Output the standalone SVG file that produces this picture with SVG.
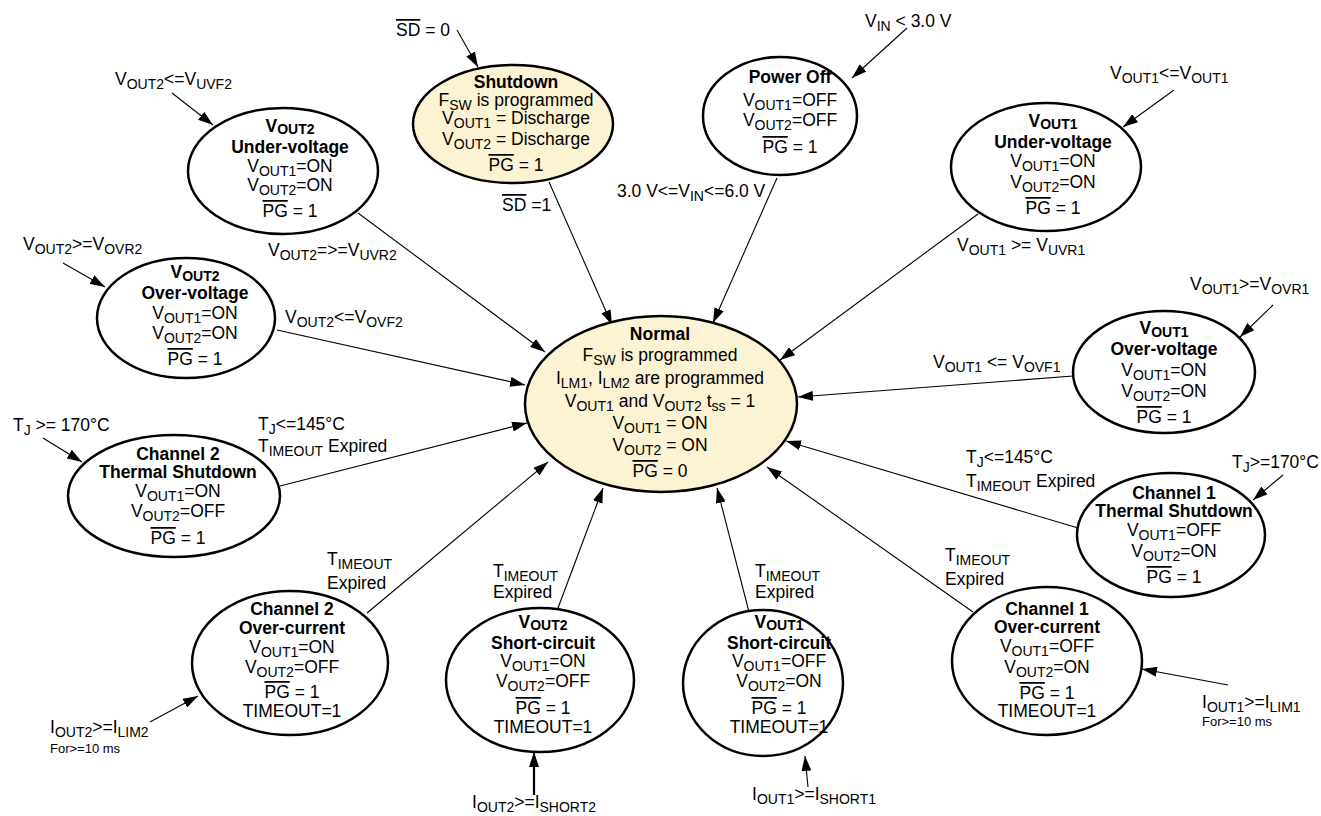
<svg xmlns="http://www.w3.org/2000/svg" width="1321" height="816" viewBox="0 0 1321 816">
<style>
.n{fill:#fff;stroke:#000;stroke-width:2.5}
.f{fill:#FCF2D4}
text{font-family:"Liberation Sans",Arial,sans-serif;font-size:17.5px;fill:#000}
.c{text-anchor:middle}
.b{font-weight:bold}
.s{font-size:14px}
.sm{font-size:13px}
.o{text-decoration:overline}
.k{stroke:#000;stroke-width:1.1;fill:none;marker-end:url(#ah)}
.kt{stroke:#000;stroke-width:2.2;fill:none;marker-end:url(#ah)}
</style>
<defs>
<marker id="ah" markerUnits="userSpaceOnUse" markerWidth="15" markerHeight="10" refX="15" refY="5" orient="auto">
<path d="M0,0 L15,5 L0,10 z" fill="#000"/>
</marker>
</defs>
<rect width="1321" height="816" fill="#fff"/>

<g id="connectors">
<line class="k" x1="457" y1="30" x2="478" y2="67"/>
<line class="k" x1="907" y1="28" x2="852" y2="78"/>
<line class="k" x1="172" y1="93" x2="213" y2="125"/>
<line class="k" x1="63" y1="263" x2="105" y2="287"/>
<line class="k" x1="1174" y1="90" x2="1123" y2="127"/>
<line class="k" x1="1273" y1="305" x2="1240" y2="337"/>
<line class="k" x1="43" y1="438" x2="82" y2="462"/>
<line class="k" x1="1283" y1="475" x2="1253" y2="500"/>
<line class="k" x1="150" y1="722" x2="198" y2="696"/>
<line class="kt" x1="534" y1="795" x2="534" y2="752"/>
<line class="k" x1="808" y1="787" x2="805" y2="756"/>
<line class="k" x1="1228" y1="685" x2="1142" y2="669"/>
<line class="k" x1="549" y1="182" x2="612" y2="325"/>
<line class="k" x1="777" y1="178" x2="713" y2="323"/>
<line class="k" x1="358" y1="213" x2="545" y2="352"/>
<line class="k" x1="978" y1="214" x2="780" y2="360"/>
<line class="k" x1="277" y1="330" x2="525" y2="385"/>
<line class="k" x1="1073" y1="376" x2="798" y2="397"/>
<line class="k" x1="280" y1="486" x2="527" y2="423"/>
<line class="k" x1="1078" y1="528" x2="786" y2="441"/>
<line class="k" x1="367" y1="613" x2="548" y2="462"/>
<line class="k" x1="973" y1="612" x2="767" y2="467"/>
<line class="k" x1="558" y1="608" x2="603" y2="488"/>
<line class="k" x1="749" y1="612" x2="717" y2="488"/>
</g>

<g id="labels">
<text x="396" y="36"><tspan class="o">SD</tspan> = 0</text>
<text x="865" y="27">V<tspan class="s" dy="4">IN</tspan><tspan dy="-4"> &lt; 3.0 V</tspan></text>
<text x="115" y="85">V<tspan class="s" dy="4">OUT2</tspan><tspan dy="-4">&lt;=V</tspan><tspan class="s" dy="4">UVF2</tspan></text>
<text x="23" y="250">V<tspan class="s" dy="4">OUT2</tspan><tspan dy="-4">&gt;=V</tspan><tspan class="s" dy="4">OVR2</tspan></text>
<text x="1110" y="79">V<tspan class="s" dy="4">OUT1</tspan><tspan dy="-4">&lt;=V</tspan><tspan class="s" dy="4">OUT1</tspan></text>
<text x="1190" y="290">V<tspan class="s" dy="4">OUT1</tspan><tspan dy="-4">&gt;=V</tspan><tspan class="s" dy="4">OVR1</tspan></text>
<text x="13" y="431">T<tspan class="s" dy="4">J</tspan><tspan dy="-4"> &gt;= 170°C</tspan></text>
<text x="1232" y="468">T<tspan class="s" dy="4">J</tspan><tspan dy="-4">&gt;=170°C</tspan></text>
<text x="50" y="733">I<tspan class="s" dy="4">OUT2</tspan><tspan dy="-4">&gt;=I</tspan><tspan class="s" dy="4">LIM2</tspan></text>
<text class="sm" x="50" y="753">For&gt;=10 ms</text>
<text x="472" y="808">I<tspan class="s" dy="4">OUT2</tspan><tspan dy="-4">&gt;=I</tspan><tspan class="s" dy="4">SHORT2</tspan></text>
<text x="752" y="800">I<tspan class="s" dy="4">OUT1</tspan><tspan dy="-4">&gt;=I</tspan><tspan class="s" dy="4">SHORT1</tspan></text>
<text x="1202" y="708">I<tspan class="s" dy="4">OUT1</tspan><tspan dy="-4">&gt;=I</tspan><tspan class="s" dy="4">LIM1</tspan></text>
<text class="sm" x="1202" y="726">For&gt;=10 ms</text>
<text x="502" y="211"><tspan class="o">SD</tspan> =1</text>
<text x="617" y="197">3.0 V&lt;=V<tspan class="s" dy="4">IN</tspan><tspan dy="-4">&lt;=6.0 V</tspan></text>
<text x="268" y="256">V<tspan class="s" dy="4">OUT2</tspan><tspan dy="-4">=&gt;=V</tspan><tspan class="s" dy="4">UVR2</tspan></text>
<text x="957" y="251">V<tspan class="s" dy="4">OUT1</tspan><tspan dy="-4"> &gt;= V</tspan><tspan class="s" dy="4">UVR1</tspan></text>
<text x="285" y="323">V<tspan class="s" dy="4">OUT2</tspan><tspan dy="-4">&lt;=V</tspan><tspan class="s" dy="4">OVF2</tspan></text>
<text x="933" y="368">V<tspan class="s" dy="4">OUT1</tspan><tspan dy="-4"> &lt;= V</tspan><tspan class="s" dy="4">OVF1</tspan></text>
<text x="258" y="430">T<tspan class="s" dy="4">J</tspan><tspan dy="-4">&lt;=145°C</tspan></text>
<text x="258" y="452">T<tspan class="s" dy="4">IMEOUT</tspan><tspan dy="-4"> Expired</tspan></text>
<text x="966" y="463">T<tspan class="s" dy="4">J</tspan><tspan dy="-4">&lt;=145°C</tspan></text>
<text x="966" y="487">T<tspan class="s" dy="4">IMEOUT</tspan><tspan dy="-4"> Expired</tspan></text>
<text x="327" y="565">T<tspan class="s" dy="4">IMEOUT</tspan></text>
<text x="327" y="589">Expired</text>
<text x="493" y="577">T<tspan class="s" dy="4">IMEOUT</tspan></text>
<text x="493" y="598">Expired</text>
<text x="755" y="577">T<tspan class="s" dy="4">IMEOUT</tspan></text>
<text x="755" y="598">Expired</text>
<text x="945" y="561">T<tspan class="s" dy="4">IMEOUT</tspan></text>
<text x="945" y="585">Expired</text>
</g>

<g id="normal">
<ellipse class="n f" cx="661" cy="404" rx="136" ry="88"/>
<text class="c b" x="660" y="340">Normal</text>
<text class="c" x="660" y="361">F<tspan class="s" dy="4">SW</tspan><tspan dy="-4"> is programmed</tspan></text>
<text class="c" x="660" y="384">I<tspan class="s" dy="4">LM1</tspan><tspan dy="-4">, I</tspan><tspan class="s" dy="4">LM2</tspan><tspan dy="-4"> are programmed</tspan></text>
<text class="c" x="660" y="407">V<tspan class="s" dy="4">OUT1</tspan><tspan dy="-4"> and V</tspan><tspan class="s" dy="4">OUT2</tspan><tspan dy="-4"> t</tspan><tspan class="s" dy="4">ss</tspan><tspan dy="-4"> = 1</tspan></text>
<text class="c" x="660" y="429">V<tspan class="s" dy="4">OUT1</tspan><tspan dy="-4"> = ON</tspan></text>
<text class="c" x="660" y="451">V<tspan class="s" dy="4">OUT2</tspan><tspan dy="-4"> = ON</tspan></text>
<text class="c" x="660" y="477"><tspan class="o">PG</tspan> = 0</text>
</g>

<g id="shutdown">
<ellipse class="n f" cx="513" cy="124" rx="100" ry="59"/>
<text class="c b" x="516" y="88">Shutdown</text>
<text class="c" x="516" y="106">F<tspan class="s" dy="4">SW</tspan><tspan dy="-4"> is programmed</tspan></text>
<text class="c" x="516" y="124">V<tspan class="s" dy="4">OUT1</tspan><tspan dy="-4"> = Discharge</tspan></text>
<text class="c" x="516" y="145">V<tspan class="s" dy="4">OUT2</tspan><tspan dy="-4"> = Discharge</tspan></text>
<text class="c" x="516" y="171"><tspan class="o">PG</tspan> = 1</text>
</g>

<g id="power-off">
<ellipse class="n" cx="780" cy="116" rx="77" ry="59"/>
<text class="c b" x="790" y="83">Power Off</text>
<text class="c" x="790" y="106">V<tspan class="s" dy="4">OUT1</tspan><tspan dy="-4">=OFF</tspan></text>
<text class="c" x="790" y="126">V<tspan class="s" dy="4">OUT2</tspan><tspan dy="-4">=OFF</tspan></text>
<text class="c" x="790" y="153"><tspan class="o">PG</tspan> = 1</text>
</g>

<g id="vout2-uv">
<ellipse class="n" cx="283" cy="171" rx="95" ry="63"/>
<text class="c b" x="290" y="132">V<tspan class="s" dy="2">OUT2</tspan></text>
<text class="c b" x="290" y="153">Under-voltage</text>
<text class="c" x="290" y="172">V<tspan class="s" dy="4">OUT1</tspan><tspan dy="-4">=ON</tspan></text>
<text class="c" x="290" y="191">V<tspan class="s" dy="4">OUT2</tspan><tspan dy="-4">=ON</tspan></text>
<text class="c" x="290" y="217"><tspan class="o">PG</tspan> = 1</text>
</g>

<g id="vout2-ov">
<ellipse class="n" cx="186" cy="318" rx="89" ry="60"/>
<text class="c b" x="195" y="278">V<tspan class="s" dy="3">OUT2</tspan></text>
<text class="c b" x="195" y="299">Over-voltage</text>
<text class="c" x="195" y="319">V<tspan class="s" dy="4">OUT1</tspan><tspan dy="-4">=ON</tspan></text>
<text class="c" x="195" y="339">V<tspan class="s" dy="4">OUT2</tspan><tspan dy="-4">=ON</tspan></text>
<text class="c" x="195" y="365"><tspan class="o">PG</tspan> = 1</text>
</g>

<g id="vout1-uv">
<ellipse class="n" cx="1046" cy="167" rx="95" ry="64"/>
<text class="c b" x="1053" y="127">V<tspan class="s" dy="2">OUT1</tspan></text>
<text class="c b" x="1053" y="148">Under-voltage</text>
<text class="c" x="1053" y="167">V<tspan class="s" dy="4">OUT1</tspan><tspan dy="-4">=ON</tspan></text>
<text class="c" x="1053" y="188">V<tspan class="s" dy="4">OUT2</tspan><tspan dy="-4">=ON</tspan></text>
<text class="c" x="1053" y="214"><tspan class="o">PG</tspan> = 1</text>
</g>

<g id="vout1-ov">
<ellipse class="n" cx="1164" cy="372" rx="91" ry="61"/>
<text class="c b" x="1164" y="334">V<tspan class="s" dy="3">OUT1</tspan></text>
<text class="c b" x="1164" y="355">Over-voltage</text>
<text class="c" x="1164" y="376">V<tspan class="s" dy="4">OUT1</tspan><tspan dy="-4">=ON</tspan></text>
<text class="c" x="1164" y="397">V<tspan class="s" dy="4">OUT2</tspan><tspan dy="-4">=ON</tspan></text>
<text class="c" x="1164" y="423"><tspan class="o">PG</tspan> = 1</text>
</g>

<g id="ch2-thermal">
<ellipse class="n" cx="174" cy="496" rx="106" ry="61"/>
<text class="c b" x="178" y="460">Channel 2</text>
<text class="c b" x="178" y="478">Thermal Shutdown</text>
<text class="c" x="178" y="497">V<tspan class="s" dy="4">OUT1</tspan><tspan dy="-4">=ON</tspan></text>
<text class="c" x="178" y="517">V<tspan class="s" dy="4">OUT2</tspan><tspan dy="-4">=OFF</tspan></text>
<text class="c" x="178" y="544"><tspan class="o">PG</tspan> = 1</text>
</g>

<g id="ch1-thermal">
<ellipse class="n" cx="1171" cy="535" rx="94" ry="62"/>
<text class="c b" x="1174" y="499">Channel 1</text>
<text class="c b" x="1174" y="517">Thermal Shutdown</text>
<text class="c" x="1174" y="536">V<tspan class="s" dy="4">OUT1</tspan><tspan dy="-4">=OFF</tspan></text>
<text class="c" x="1174" y="557">V<tspan class="s" dy="4">OUT2</tspan><tspan dy="-4">=ON</tspan></text>
<text class="c" x="1174" y="583"><tspan class="o">PG</tspan> = 1</text>
</g>

<g id="ch2-oc">
<ellipse class="n" cx="290" cy="663" rx="98" ry="72"/>
<text class="c b" x="292" y="615">Channel 2</text>
<text class="c b" x="292" y="634">Over-current</text>
<text class="c" x="292" y="653">V<tspan class="s" dy="4">OUT1</tspan><tspan dy="-4">=ON</tspan></text>
<text class="c" x="292" y="673">V<tspan class="s" dy="4">OUT2</tspan><tspan dy="-4">=OFF</tspan></text>
<text class="c" x="292" y="698"><tspan class="o">PG</tspan> = 1</text>
<text class="c" x="292" y="717">TIMEOUT=1</text>
</g>

<g id="vout2-sc">
<ellipse class="n" cx="540" cy="680" rx="94" ry="72"/>
<text class="c b" x="543" y="628">V<tspan class="s" dy="2">OUT2</tspan></text>
<text class="c b" x="543" y="649">Short-circuit</text>
<text class="c" x="543" y="667">V<tspan class="s" dy="4">OUT1</tspan><tspan dy="-4">=ON</tspan></text>
<text class="c" x="543" y="687">V<tspan class="s" dy="4">OUT2</tspan><tspan dy="-4">=OFF</tspan></text>
<text class="c" x="543" y="714"><tspan class="o">PG</tspan> = 1</text>
<text class="c" x="543" y="733">TIMEOUT=1</text>
</g>

<g id="vout1-sc">
<ellipse class="n" cx="763" cy="683" rx="80" ry="73"/>
<text class="c b" x="779" y="628">V<tspan class="s" dy="2">OUT1</tspan></text>
<text class="c b" x="779" y="649">Short-circuit</text>
<text class="c" x="779" y="667">V<tspan class="s" dy="4">OUT1</tspan><tspan dy="-4">=OFF</tspan></text>
<text class="c" x="779" y="687">V<tspan class="s" dy="4">OUT2</tspan><tspan dy="-4">=ON</tspan></text>
<text class="c" x="779" y="714"><tspan class="o">PG</tspan> = 1</text>
<text class="c" x="779" y="733">TIMEOUT=1</text>
</g>

<g id="ch1-oc">
<ellipse class="n" cx="1047" cy="661" rx="95" ry="74"/>
<text class="c b" x="1047" y="615">Channel 1</text>
<text class="c b" x="1047" y="633">Over-current</text>
<text class="c" x="1047" y="652">V<tspan class="s" dy="4">OUT1</tspan><tspan dy="-4">=OFF</tspan></text>
<text class="c" x="1047" y="673">V<tspan class="s" dy="4">OUT2</tspan><tspan dy="-4">=ON</tspan></text>
<text class="c" x="1047" y="699"><tspan class="o">PG</tspan> = 1</text>
<text class="c" x="1047" y="717">TIMEOUT=1</text>
</g>
</svg>
